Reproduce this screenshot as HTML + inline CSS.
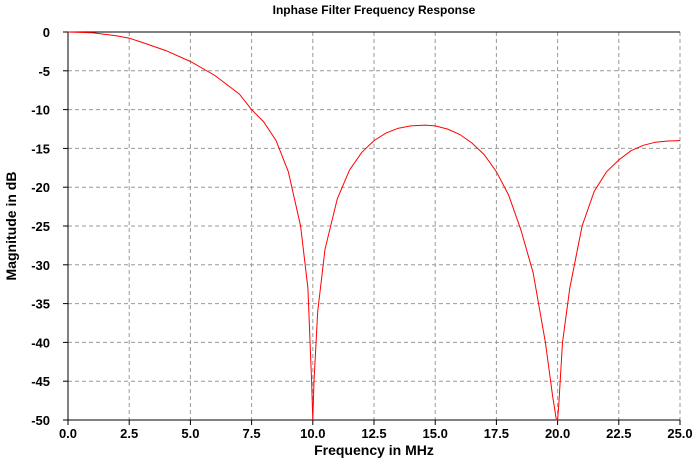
<!DOCTYPE html>
<html><head><meta charset="utf-8"><style>
body{margin:0;background:#fff;}
svg{display:block;font-family:"Liberation Sans",Arial,sans-serif;}
</style></head><body>
<svg id="chart" width="693" height="459">
<text x="374" y="14" text-anchor="middle" font-size="12" font-weight="bold">Inphase Filter Frequency Response</text>
<text x="374" y="455" text-anchor="middle" font-size="14" font-weight="bold">Frequency in MHz</text>
<text transform="translate(16,226) rotate(-90)" text-anchor="middle" font-size="14" font-weight="bold">Magnitude in dB</text>
<g id="grid"></g><g id="ticks"></g><g id="series"></g>
</svg>
<script>
const xTicks=[0,2.5,5,7.5,10,12.5,15,17.5,20,22.5,25];
const yTicks=[0,-5,-10,-15,-20,-25,-30,-35,-40,-45,-50];
const freq=[0,1,2,2.5,3,4,5,6,7,7.5,8,8.5,9,9.5,9.8,9.95,10,10.05,10.2,10.5,11,11.5,12,12.5,13,13.5,14,14.6,15,15.5,16,16.5,17,17.5,18,18.5,19,19.5,19.8,19.95,20,20.05,20.2,20.5,21,21.5,22,22.5,23,23.5,24,24.5,25];
const magDb=[0,-0.1,-0.5,-0.8,-1.3,-2.4,-3.8,-5.6,-8.0,-10,-11.6,-14,-18,-25,-33,-45,-50,-45,-36,-28,-21.5,-17.8,-15.5,-14,-13,-12.4,-12.1,-12,-12.1,-12.5,-13.2,-14.3,-15.8,-18,-21,-25.5,-31,-40,-47,-50,-50,-48,-40,-33,-25,-20.5,-18,-16.5,-15.3,-14.6,-14.2,-14.05,-14];
{
const X0=68,X1=680,Y0=32,Y1=420;
const xs=v=>X0+(v-0)/25*(X1-X0);
const ys=v=>Y0+(0-v)/50*(Y1-Y0);
const NS="http://www.w3.org/2000/svg";
function mk(t,a,p){const e=document.createElementNS(NS,t);for(const k in a)e.setAttribute(k,a[k]);p.appendChild(e);return e;}
const grid=document.getElementById('grid'),ticks=document.getElementById('ticks'),ser=document.getElementById('series');
xTicks.forEach(v=>{
  if(v>0){const l=mk('line',{x1:xs(v),x2:xs(v),y1:Y0,y2:Y1,stroke:'#999','stroke-dasharray':'4,3'},grid);
  
  }
  const tk=mk('line',{x1:xs(v),x2:xs(v),y1:Y1,y2:Y1+5,stroke:'#000'},ticks);
  
  
  const t=mk('text',{x:xs(v),y:Y1+18,'text-anchor':'middle','font-size':'13','font-weight':'bold'},ticks);
  t.textContent=v.toFixed(1);
  
  
});
yTicks.forEach(v=>{
  if(v<0&&v>-50){const l=mk('line',{x1:X0,x2:X1,y1:ys(v),y2:ys(v),stroke:'#999','stroke-dasharray':'4,3'},grid);
  
  }
  const tk=mk('line',{x1:X0-5,x2:X0,y1:ys(v),y2:ys(v),stroke:'#000'},ticks);
  
  
  const t=mk('text',{x:X0-18,y:ys(v)+5,'text-anchor':'end','font-size':'13','font-weight':'bold'},ticks);
  t.textContent=String(v);
  
  
});
const topBorder=mk('line',{x1:X0,x2:X1,y1:Y0,y2:Y0,stroke:'#000'},ticks);


const ya=mk('line',{x1:X0,x2:X0,y1:Y0,y2:Y1,stroke:'#000'},ticks);


const xa=mk('line',{x1:X0,x2:X1,y1:Y1,y2:Y1,stroke:'#000'},ticks);


const pts=freq.map((f,i)=>xs(f).toFixed(1)+','+ys(Math.max(magDb[i],-50)).toFixed(1)).join(' ');
const pl=mk('polyline',{points:pts,fill:'none',stroke:'#f00','stroke-width':'1'},ser);


}
</script>
</body></html>
